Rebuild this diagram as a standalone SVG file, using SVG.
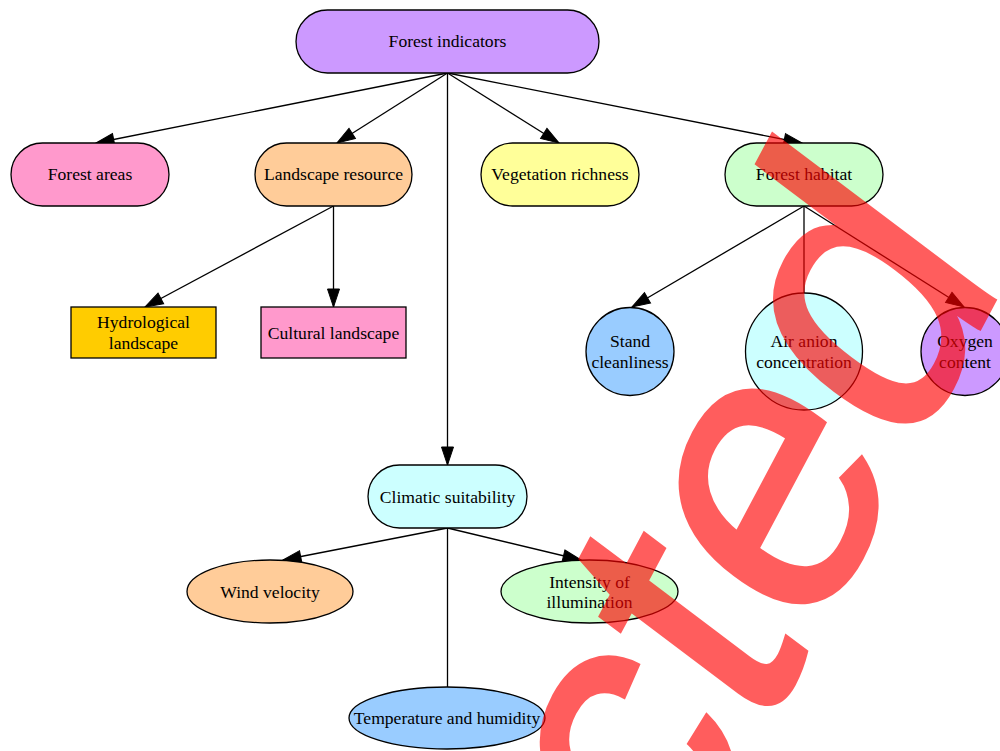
<svg xmlns="http://www.w3.org/2000/svg" width="1000" height="751" viewBox="0 0 1000 751">
<defs>
<marker id="arr" markerUnits="userSpaceOnUse" markerWidth="18" markerHeight="12" refX="18" refY="6" orient="auto" overflow="visible">
<path d="M0,0 L18,6 L0,12 z" fill="#000" stroke="#000" stroke-width="1"/>
</marker>
</defs>
<style>
.n{stroke:#000;stroke-width:1.3}
.t{font-family:"Liberation Serif","Times New Roman",serif;font-size:17.6px;fill:#000;text-anchor:middle}
.e{stroke:#000;stroke-width:1.3;fill:none}
.wm{font-family:"Liberation Sans",Arial,sans-serif;font-size:378px;fill:#ff0000;stroke:#ff0000;stroke-width:4;stroke-linejoin:miter}
</style>
<rect width="1000" height="751" fill="#fff"/>
<g id="edges">
<line class="e" x1="447.5" y1="73" x2="96" y2="143" marker-end="url(#arr)"/>
<line class="e" x1="447.5" y1="73" x2="337" y2="143" marker-end="url(#arr)"/>
<line class="e" x1="447.5" y1="73" x2="559" y2="143" marker-end="url(#arr)"/>
<line class="e" x1="447.5" y1="73" x2="802" y2="143" marker-end="url(#arr)"/>
<line class="e" x1="447.5" y1="73" x2="447.5" y2="465" marker-end="url(#arr)"/>
<line class="e" x1="333.5" y1="206" x2="145" y2="307" marker-end="url(#arr)"/>
<line class="e" x1="333.5" y1="206" x2="333.5" y2="307" marker-end="url(#arr)"/>
<line class="e" x1="804" y1="206" x2="632" y2="307" marker-end="url(#arr)"/>
<line class="e" x1="804" y1="206" x2="804" y2="293"/>
<line class="e" x1="804" y1="206" x2="964" y2="307" marker-end="url(#arr)"/>
<line class="e" x1="447.5" y1="528" x2="283" y2="560" marker-end="url(#arr)"/>
<line class="e" x1="447.5" y1="528" x2="447.5" y2="687"/>
<line class="e" x1="447.5" y1="528" x2="581" y2="560" marker-end="url(#arr)"/>
</g>
<g id="forest_indicators"><rect class="n" x="296" y="10" width="303" height="63" rx="31.5" fill="#cc99ff"/><text class="t" x="447.5" y="47">Forest indicators</text></g>
<g id="forest_areas"><rect class="n" x="11" y="143" width="158" height="63" rx="31.5" fill="#ff99cc"/><text class="t" x="90" y="180">Forest areas</text></g>
<g id="landscape_resource"><rect class="n" x="255" y="143" width="157" height="63" rx="31.5" fill="#ffcc99"/><text class="t" x="333.5" y="180">Landscape resource</text></g>
<g id="vegetation_richness"><rect class="n" x="481" y="143" width="158" height="63" rx="31.5" fill="#ffff99"/><text class="t" x="560" y="180">Vegetation richness</text></g>
<g id="forest_habitat"><rect class="n" x="725" y="143" width="158" height="63" rx="31.5" fill="#ccffcc"/><text class="t" x="804" y="180">Forest habitat</text></g>
<g id="hydrological_landscape"><rect class="n" x="71" y="307" width="145" height="51" fill="#ffcc00"/><text class="t" x="143.5" y="328">Hydrological</text><text class="t" x="143.5" y="349">landscape</text></g>
<g id="cultural_landscape"><rect class="n" x="261" y="307" width="145" height="51" fill="#ff99cc"/><text class="t" x="333.5" y="339">Cultural landscape</text></g>
<g id="stand_cleanliness"><circle class="n" cx="630" cy="351.5" r="44" fill="#99ccff"/><text class="t" x="630" y="346.5">Stand</text><text class="t" x="630" y="367.5">cleanliness</text></g>
<g id="air_anion_concentration"><circle class="n" cx="804" cy="351.5" r="58.5" fill="#ccffff"/><text class="t" x="804" y="346.5">Air anion</text><text class="t" x="804" y="367.5">concentration</text></g>
<g id="oxygen_content"><circle class="n" cx="965" cy="351.5" r="44" fill="#cc99ff"/><text class="t" x="965" y="346.5">Oxygen</text><text class="t" x="965" y="367.5">content</text></g>
<g id="climatic_suitability"><rect class="n" x="368" y="465" width="159" height="63" rx="31.5" fill="#ccffff"/><text class="t" x="447.5" y="503">Climatic suitability</text></g>
<g id="wind_velocity"><ellipse class="n" cx="270" cy="591.5" rx="83" ry="31.5" fill="#ffcc99"/><text class="t" x="270" y="597.5">Wind velocity</text></g>
<g id="intensity_of_illumination"><ellipse class="n" cx="589.5" cy="591.5" rx="88.5" ry="31.5" fill="#ccffcc"/><text class="t" x="589.5" y="587.5">Intensity of</text><text class="t" x="589.5" y="608">illumination</text></g>
<g id="temperature_and_humidity"><ellipse class="n" cx="447" cy="718" rx="98" ry="31" fill="#99ccff"/><text class="t" x="447" y="724">Temperature and humidity</text></g>
<g id="watermark" opacity="0.63"><text class="wm" transform="translate(670.7,909.7) rotate(-62) skewX(-9)">cted</text></g>
</svg>
